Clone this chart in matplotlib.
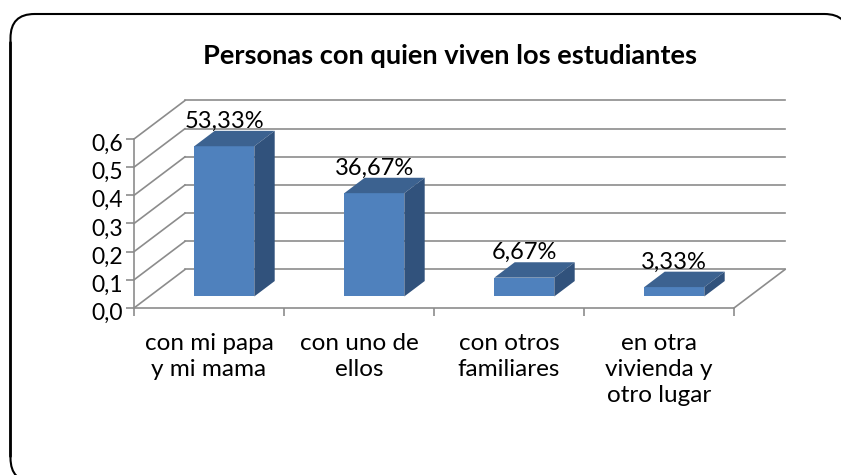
# -*- coding: utf-8 -*-
import matplotlib.pyplot as plt
from matplotlib.patches import FancyBboxPatch, Polygon
from matplotlib.transforms import ScaledTranslation

plt.rcParams["font.family"] = ["Lato", "DejaVu Sans"]

categorias = ["con mi papa\ny mi mama", "con uno de\nellos", "con otros\nfamiliares", "en otra\nvivienda y\notro lugar"]
valores = [0.5333, 0.3667, 0.0667, 0.0333]
etiquetas = ["53,33%", "36,67%", "6,67%", "3,33%"]
yticks = [0.0, 0.1, 0.2, 0.3, 0.4, 0.5, 0.6]
ytick_labels = ["0,0", "0,1", "0,2", "0,3", "0,4", "0,5", "0,6"]
titulo = "Personas con quien viven los estudiantes"

W, H = 841, 475
GRIS = "#8c8c8c"
FRENTE = "#4f81bd"
ARRIBA = "#3c6290"
LADO = "#31527c"

# fondo de la pared en unidades de datos
fondo_x = 0.34
fondo_y = 0.1367
ancho = 0.4


def prof(x, y, d):
    return (x + fondo_x * d, y + fondo_y * d)


fig = plt.figure(figsize=(W / 100, H / 100), dpi=100)

# marco redondeado, se sale del lienzo a la derecha y abajo
marco = fig.add_axes([0, 0, 1, 1])
marco.set_xlim(0, W)
marco.set_ylim(H, 0)
marco.axis("off")
marco.add_patch(FancyBboxPatch((10.5, 14), 838, 468, boxstyle="round,pad=0,rounding_size=24",
                               fc="white", ec="black", lw=1.5))
marco.plot([10.5, 10.5], [42, 456], color="black", lw=1.9, solid_capstyle="round")

ax = fig.add_axes([134 / W, (H - 308) / H, 600 / W, 169 / H])
ax.patch.set_visible(False)
ax.set_xlim(0, 4)
ax.set_ylim(0, 0.6)
for s in ["top", "right"]:
    ax.spines[s].set_visible(False)
for s in ["left", "bottom"]:
    ax.spines[s].set_color(GRIS)
    ax.spines[s].set_linewidth(1.2)

# rejilla de las paredes
for v in yticks:
    x0, y0 = prof(0, v, 1)
    x1, y1 = prof(4, v, 1)
    ax.plot([0, x0], [v, y0], color=GRIS, lw=1.2, clip_on=False, zorder=1)
    ax.plot([x0, x1], [y0, y1], color=GRIS, lw=1.2, clip_on=False, zorder=1)
x1, y1 = prof(4, 0, 1)
ax.plot([4, x1], [0, y1], color=GRIS, lw=1.2, clip_on=False, zorder=1)

# barras
for i, v in enumerate(valores):
    izq = i + 0.5 - ancho / 2
    der = izq + ancho
    x, y = prof(izq, 0, 0.3)
    ax.bar(x, v, ancho, bottom=y, align="edge", color=FRENTE, zorder=3, clip_on=False)
    ax.add_patch(Polygon([prof(izq, v, 0.3), prof(der, v, 0.3), prof(der, v, 0.7), prof(izq, v, 0.7)],
                         fc=ARRIBA, ec="none", zorder=3, clip_on=False))
    ax.add_patch(Polygon([prof(der, 0, 0.3), prof(der, 0, 0.7), prof(der, v, 0.7), prof(der, v, 0.3)],
                         fc=LADO, ec="none", zorder=3, clip_on=False))
    tx, ty = prof(i + 0.5, v, 0.3)
    ax.annotate(etiquetas[i], (tx, ty), xytext=(0, 25), textcoords="offset pixels",
                ha="center", va="center", fontsize=17, color="black", zorder=4, annotation_clip=False)

ax.set_yticks(yticks)
ax.set_yticklabels(ytick_labels, fontsize=16.5)
ax.set_xticks([0, 1, 2, 3, 4])
ax.set_xticklabels([])
ax.set_xticks([0.5, 1.5, 2.5, 3.5], minor=True)
ax.set_xticklabels(categorias, minor=True, fontsize=17.5, linespacing=1.28, va="top")
ax.tick_params(axis="both", which="major", color=GRIS, width=1.2, length=6, pad=2)
ax.tick_params(axis="x", which="minor", length=0, pad=18)

# las etiquetas del eje y van un poco mas abajo que la marca
bajar = ScaledTranslation(0, -3.5 / 100, fig.dpi_scale_trans)
for lab in ax.get_yticklabels():
    lab.set_transform(lab.get_transform() + bajar)

fig.text(450 / W, 1 - 56 / H, titulo, ha="center", va="center", fontsize=19.6, fontweight="bold")

fig.savefig("out.png", dpi=100)
